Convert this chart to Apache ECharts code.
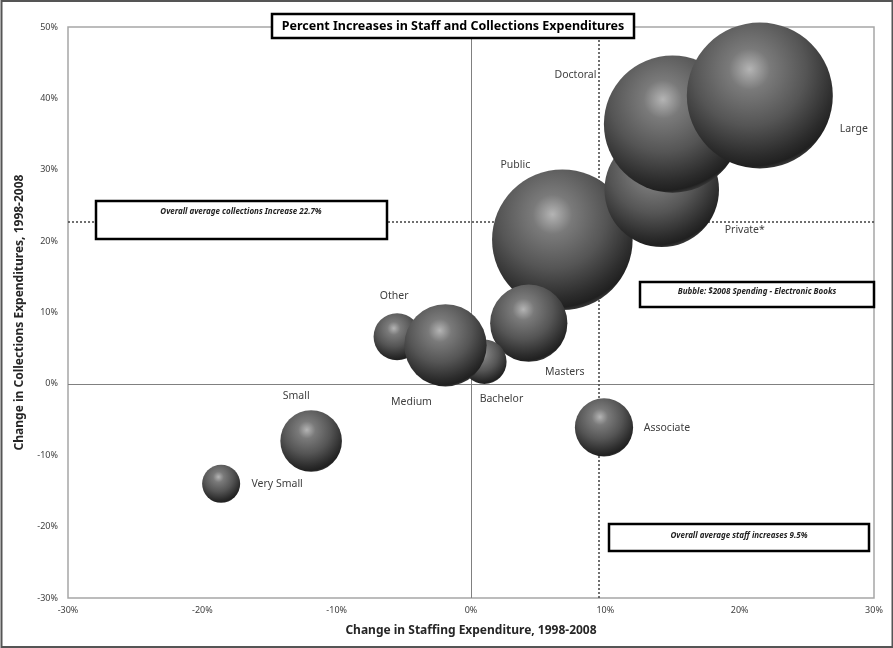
<!DOCTYPE html>
<html>
<head>
<meta charset="utf-8">
<script src="https://cdn.jsdelivr.net/npm/echarts@6/dist/echarts.min.js"></script>
<style>html,body{margin:0;padding:0;background:#fff;}#c{width:893px;height:648px;}</style>
</head>
<body>
<div id="c"></div>
<script>
// Data (percent changes 1998-2008); draw order = later on top
var names      = ['Public', 'Masters', 'Private*', 'Doctoral', 'Large', 'Other', 'Bachelor', 'Medium', 'Small', 'Very Small', 'Associate'];
var staffChg   = [6.8, 4.3, 14.2, 15.0, 21.5, -5.5, 1.0, -1.9, -11.9, -18.6, 9.9];
var collChg    = [20.2, 8.5, 27.2, 36.4, 40.4, 6.6, 3.1, 5.4, -8.0, -14.0, -6.1];
var spending   = [92.7, 28.0, 61.5, 88.3, 100, 10.4, 9.2, 31.8, 17.8, 6.8, 15.9];
var xTicks     = [-30, -20, -10, 0, 10, 20, 30];
var yTicks     = [-30, -20, -10, 0, 10, 20, 30, 40, 50];
var avgStaff   = 9.5;
var avgColl    = 22.7;

// label placement (styling)
var labelOffsets = [[-47,-75],[36,49],[83,40],[-97,-49],[94,33],[-3,-41],[17,37],[-34,57],[-15,-45],[56,0],[63,1]];

var maxSpend = Math.max.apply(null, spending);
var maxDiam = 146;

var sphere = {
  type: 'radial', x: 0.43, y: 0.32, r: 0.7,
  colorStops: [
    {offset: 0, color: '#b4b4b4'},
    {offset: 0.2, color: '#7a7a7a'},
    {offset: 0.55, color: '#555555'},
    {offset: 0.85, color: '#2c2c2c'},
    {offset: 0.95, color: '#202020'},
    {offset: 1, color: '#404040'}
  ]
};

var data = names.map(function (n, i) {
  return {
    name: n,
    value: [staffChg[i], collChg[i], spending[i]],
    label: {offset: labelOffsets[i]}
  };
});

var chart = echarts.init(document.getElementById('c'), null, {renderer: 'canvas'});
var fontFam = '"Noto Sans", "Open Sans", sans-serif';

chart.setOption({
  animation: false,
  backgroundColor: '#fff',
  grid: {left: 68, right: 19, top: 27, bottom: 50, show: true, borderColor: '#a6a6a6', borderWidth: 1.5},
  xAxis: {
    type: 'value', min: xTicks[0], max: xTicks[xTicks.length - 1], interval: 10,
    axisLine: {show: false}, axisTick: {show: false}, splitLine: {show: false},
    axisLabel: {formatter: '{value}%', fontSize: 9, color: '#404040', fontFamily: fontFam, margin: 8},
    name: 'Change in Staffing Expenditure, 1998-2008', nameLocation: 'middle', nameGap: 27,
    nameTextStyle: {fontSize: 12, fontWeight: 'bold', color: '#262626', fontFamily: fontFam}
  },
  yAxis: {
    type: 'value', min: yTicks[0], max: yTicks[yTicks.length - 1], interval: 10,
    axisLine: {show: false}, axisTick: {show: false}, splitLine: {show: false},
    axisLabel: {formatter: '{value}%', fontSize: 9, color: '#404040', fontFamily: fontFam, margin: 10},
    name: 'Change in Collections Expenditures, 1998-2008', nameLocation: 'middle', nameGap: 42,
    nameTextStyle: {fontSize: 12, fontWeight: 'bold', color: '#262626', fontFamily: fontFam}
  },
  series: [{
    type: 'scatter',
    data: data,
    symbolSize: function (v) { return maxDiam * Math.sqrt(v[2] / maxSpend); },
    itemStyle: {color: sphere, opacity: 1},
    label: {
      show: true, position: 'inside', formatter: '{b}',
      fontSize: 10.5, color: '#404040', fontFamily: fontFam
    },
    z: 5,
    markLine: {
      silent: true, symbol: 'none', label: {show: false}, animation: false,
      data: [
        {xAxis: 0, lineStyle: {type: 'solid', color: '#808080', width: 1}},
        {yAxis: 0, lineStyle: {type: 'solid', color: '#808080', width: 1.2}},
        {xAxis: avgStaff, lineStyle: {type: [2, 2], color: '#404040', width: 1.5}},
        {yAxis: avgColl, lineStyle: {type: [2, 2], color: '#404040', width: 1.5}}
      ],
      z: 2
    }
  }],
  graphic: [
    {type: 'rect', shape: {x: 1.5, y: 1, width: 891, height: 646}, style: {fill: 'none', stroke: '#555', lineWidth: 2}, z: 100},
    {type: 'rect', shape: {x: 272, y: 14, width: 362, height: 24}, style: {fill: '#fff', stroke: '#000', lineWidth: 2.5}, z: 100},
    {type: 'text', x: 453, y: 26, style: {text: 'Percent Increases in Staff and Collections Expenditures', fontSize: 12.5, fontWeight: 'bold', fill: '#000', fontFamily: fontFam, align: 'center', verticalAlign: 'middle'}, z: 101},
    {type: 'rect', shape: {x: 96, y: 201, width: 291, height: 38}, style: {fill: '#fff', stroke: '#000', lineWidth: 2.5}, z: 100},
    {type: 'text', x: 241, y: 212, style: {text: 'Overall average collections Increase 22.7%', fontSize: 8, fontStyle: 'italic', fontWeight: 'bold', fill: '#222', fontFamily: fontFam, align: 'center', verticalAlign: 'middle'}, z: 101},
    {type: 'rect', shape: {x: 640, y: 282, width: 234, height: 25}, style: {fill: '#fff', stroke: '#000', lineWidth: 2.5}, z: 100},
    {type: 'text', x: 757, y: 292, style: {text: 'Bubble: $2008 Spending - Electronic Books', fontSize: 8, fontStyle: 'italic', fontWeight: 'bold', fill: '#222', fontFamily: fontFam, align: 'center', verticalAlign: 'middle'}, z: 101},
    {type: 'rect', shape: {x: 609, y: 524, width: 260, height: 27}, style: {fill: '#fff', stroke: '#000', lineWidth: 2.5}, z: 100},
    {type: 'text', x: 739, y: 536, style: {text: 'Overall average staff increases 9.5%', fontSize: 8, fontStyle: 'italic', fontWeight: 'bold', fill: '#222', fontFamily: fontFam, align: 'center', verticalAlign: 'middle'}, z: 101}
  ]
});
</script>
</body>
</html>
